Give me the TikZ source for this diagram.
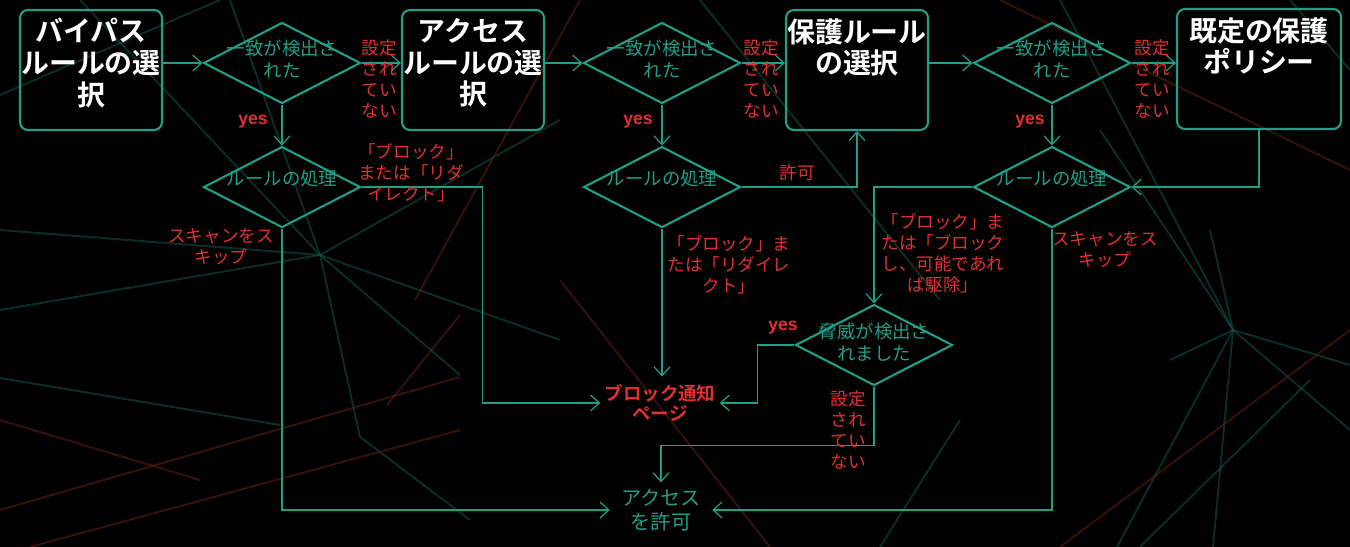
\documentclass[tikz,border=0pt]{standalone}
\usepackage{fontspec}
\setmainfont{Liberation Sans}
\newfontfamily\jpfont{Noto Sans CJK JP}[BoldFont={Noto Sans CJK JP Bold}]
\usepackage{tikz}
\usetikzlibrary{shapes.geometric,arrows.meta,positioning,calc}
\definecolor{flowteal}{RGB}{32,158,134}
\definecolor{flowred}{RGB}{226,48,48}
\definecolor{bgteal}{RGB}{18,84,72}
\definecolor{bgred}{RGB}{100,32,18}
\tikzset{
    >={Straight Barb[length=5pt,width=9pt]},
    flow/.style={draw=flowteal, line width=0.7pt, ->},
    rulebox/.style={rectangle, rounded corners=4.5pt, draw=flowteal, line width=1.2pt, minimum width=2.84cm, minimum height=2.4cm, inner sep=0pt},
    boxtext/.style={text=white, font=\jpfont\bfseries\fontsize{15.9}{18}\selectfont, align=center, inner sep=0pt},
    decision/.style={diamond, draw=flowteal, line width=1.2pt, minimum width=3.14cm, minimum height=1.62cm, inner sep=0pt},
    dtext/.style={text=flowteal, font=\jpfont\fontsize{10.5}{12.5}\selectfont, align=center, inner sep=0pt},
    el/.style={text=flowred, font=\jpfont\fontsize{10}{12}\selectfont, align=center, inner sep=0pt},
    yeslbl/.style={text=flowred, font=\bfseries\fontsize{10}{12}\selectfont, inner sep=0pt},
    bgline/.style={line width=1.1pt, opacity=0.55}
}

\begin{document}
\begin{tikzpicture}[x=0.02cm, y=-0.02cm]
        \useasboundingbox (0,0) rectangle (1350,547);
        \fill[black] (0,0) rectangle (1350,547);
        % Background network
        \foreach \xa/\ya/\xb/\yb in {0/310/320/255, 320/255/560/340, 320/255/360/437, 320/255/460/375,
            0/378/280/425, 360/437/470/520, 0/95/220/0, 80/0/320/255, 230/0/320/255, 0/230/320/255,
            320/255/560/120, 1233/330/1100/130, 1233/330/1210/230, 1233/330/1117/547, 1233/330/1213/547,
            1233/330/1350/365, 1233/330/1350/430, 1233/330/1170/360, 1310/380/1140/547, 1060/0/1233/330,
            1290/0/1350/70, 700/0/940/300, 880/547/960/420}
            \draw[bgline, bgteal] (\xa,\ya) -- (\xb,\yb);
        \foreach \xa/\ya/\xb/\yb in {0/510/460/377, 30/547/460/430, 387/405/460/315, 580/0/415/300,
            560/280/770/547, 1000/0/1350/170, 1060/547/1350/330, 0/420/200/480}
            \draw[bgline, bgred] (\xa,\ya) -- (\xb,\yb);

        % Rule selection boxes
        \node[rulebox, label={[boxtext, anchor=north, yshift=-0.18cm, name=bypasstext]north:バイパス\\ルールの選\\択}] (bypass) at (91,70) {};
        \node[rulebox, label={[boxtext, anchor=north, yshift=-0.18cm, name=accesstext]north:アクセス\\ルールの選\\択}] (access) at (473,70) {};
        \node[rulebox, label={[boxtext, anchor=north, yshift=-0.18cm, name=protecttext]north:保護ルール\\の選択}] (protect) at (857,70) {};
        \node[rulebox, minimum width=3.28cm, label={[boxtext, anchor=north, yshift=-0.18cm, name=defaulttext]north:既定の保護\\ポリシー}] (defaultpol) at (1259,69) {};
        % Decisions
        \node[decision, label={[dtext, yshift=0.08cm, name=match1text]center:一致が検出さ\\れた}] (match1) at (282,63) {};
        \node[decision, label={[dtext, yshift=0.08cm, name=match2text]center:一致が検出さ\\れた}] (match2) at (662,63) {};
        \node[decision, label={[dtext, yshift=0.08cm, name=match3text]center:一致が検出さ\\れた}] (match3) at (1052,63) {};
        \node[decision, label={[dtext, yshift=0.18cm, name=proc1text]center:ルールの処理}] (proc1) [below=0.82cm of match1] {};
        \node[decision, label={[dtext, yshift=0.18cm, name=proc2text]center:ルールの処理}] (proc2) [below=0.82cm of match2] {};
        \node[decision, label={[dtext, yshift=0.18cm, name=proc3text]center:ルールの処理}] (proc3) [below=0.82cm of match3] {};
        \node[decision, label={[dtext, yshift=0.06cm, name=threattext]center:脅威が検出さ\\れました}] (threat) at (874,345) {};
        % End points
        \node[text=flowred, font=\jpfont\bfseries\fontsize{10.5}{11.5}\selectfont, align=center, inner xsep=0.08cm, inner ysep=0.15cm] (blockpage) at (660,403) {ブロック通知\\ページ};
        \node[text=flowteal, font=\jpfont\fontsize{11.5}{14}\selectfont, align=center, inner xsep=0.22cm, inner ysep=0.12cm] (allow) at (661,510) {アクセス\\を許可};

        % Connectors
        \draw[flow] (match1.west -| bypass.east) -- (match1.west);
        \draw[flow] (match1.east) -- (match1.east -| access.west);
        \draw[flow] (match1.south) -- (proc1.north);
        \draw[flow] (proc1.east) -- ++(121,0) |- (blockpage.west);
        \draw[flow] (proc1.south) |- (allow.west);
        \draw[flow] (match2.west -| access.east) -- (match2.west);
        \draw[flow] (match2.east) -- (match2.east -| protect.west);
        \draw[flow] (match2.south) -- (proc2.north);
        \draw[flow] (proc2.east) -| (protect.south);
        \draw[flow] (proc2.south) -- (proc2.south |- blockpage.north);
        \draw[flow] (match3.west -| protect.east) -- (match3.west);
        \draw[flow] (match3.east) -- (match3.east -| defaultpol.west);
        \draw[flow] (match3.south) -- (proc3.north);
        \draw[flow] (defaultpol.south) |- (proc3.east);
        \draw[flow] (proc3.west) -| (threat.north);
        \draw[flow] (proc3.south) |- (allow.east);
        \draw[flow] (threat.west) -- ++(-37,0) |- (blockpage.east);
        \draw[flow] (threat.south) -- ++(0,59) -| (allow.north);

        % Edge labels
        \node[yeslbl] (yes1) at (253,122) {yes};
        \node[yeslbl] (yes2) at (638,122) {yes};
        \node[yeslbl] (yes3) at (1030,122) {yes};
        \node[yeslbl] (yes4) at (783,328) {yes};
        \node[el] (notset1) at (379,79) {設定\\され\\てい\\ない};
        \node[el] (notset2) at (761,79) {設定\\され\\てい\\ない};
        \node[el] (notset3) at (1152,79) {設定\\され\\てい\\ない};
        \node[el] (notset4) at (848,430) {設定\\され\\てい\\ない};
        \node[el] (block1) at (411,173) {「ブロック」\\または「リダ\\イレクト」};
        \node[el] (skip1) at (221,247) {スキャンをス\\キップ};
        \node[el] (allow1) at (797,173) {許可};
        \node[el] (block2) at (729,265) {「ブロック」ま\\たは「リダイレ\\クト」};
        \node[el] (block3) at (943,253) {「ブロック」ま\\たは「ブロック\\し、可能であれ\\ば駆除」};
        \node[el] (skip2) at (1105,250) {スキャンをス\\キップ};
    \end{tikzpicture}
\end{document}
